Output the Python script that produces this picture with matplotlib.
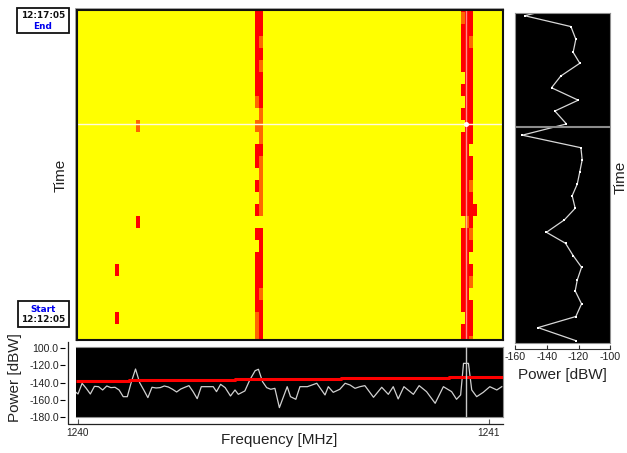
#!/usr/bin/env python
# spectrogram with a slice along frequency (bottom) and a slice along time (right)

import matplotlib
matplotlib.use("Agg")
import matplotlib.pyplot as plt
import numpy as np
from matplotlib.colors import ListedColormap
from matplotlib.lines import Line2D
from matplotlib.patches import Rectangle

plt.rcParams["font.family"] = ["Liberation Sans", "DejaVu Sans"]

W, H = 627, 453

# spectrogram: left edge of each occupied column [MHz] and its level per row
# . = background, o = medium, r = strong
col_edges = [1240.0908, 1240.1005, 1240.1411, 1240.1509, 1240.4314, 1240.4411,
             1240.4506, 1240.9319, 1240.9416, 1240.9513, 1240.9616, 1240.9708]
col_rows = {
    1240.0908: "......................r...r..",
    1240.1411: "..........o.......r..........",
    1240.4314: "rrrrrrrro.o.rr.r.r.r.rrrrrooo",
    1240.4411: "rrrororrrooorooooo.rrrrrorrrr",
    1240.9319: "rorrrr.r.r.rrrrrrr.rrrrrrr.rr",
    1240.9416: "rrrrrrrrrrrrrrrrrrorrrrrrrrrr",
    1240.9513: "rrrorrrrrrrr.rrorrror.ro.rrro",
    1240.9616: ".................r...........",
}

# slice along time (right panel)
time_rows = [-0.2, 0, 0.9, 1.95, 3.03, 3.94, 5.0, 5.97, 7.0, 7.9, 8.97, 9.9,
             10.94, 11.95, 12.93, 13.95, 14.92, 15.96, 16.93, 17.95, 18.86,
             19.88, 20.85, 21.9, 22.81, 23.88, 24.93, 25.85, 26.93]
time_power = [-147.6, -153.9, -124.8, -121.7, -123.4, -119.2, -131.2, -137.0,
              -120.2, -134.9, -127.6, -155.4, -118.5, -117.7, -119.2, -120.8,
              -124.0, -122.1, -129.0, -140.2, -128.2, -123.4, -118.1, -120.8,
              -122.1, -118.1, -121.7, -145.5, -121.7]

# slice along frequency (bottom panel)
freq_mhz = [1239.993, 1240.000, 1240.010, 1240.020, 1240.030, 1240.040, 1240.050,
            1240.060, 1240.070, 1240.080, 1240.090, 1240.100, 1240.110, 1240.120,
            1240.130, 1240.140, 1240.150, 1240.160, 1240.170, 1240.180, 1240.190,
            1240.200, 1240.210, 1240.220, 1240.230, 1240.240, 1240.250, 1240.260,
            1240.270, 1240.280, 1240.290, 1240.300, 1240.310, 1240.329, 1240.337,
            1240.347, 1240.358, 1240.371, 1240.382, 1240.390, 1240.406, 1240.418,
            1240.431, 1240.439, 1240.449, 1240.459, 1240.469, 1240.479, 1240.490,
            1240.509, 1240.517, 1240.530, 1240.540, 1240.558, 1240.581, 1240.601,
            1240.609, 1240.621, 1240.637, 1240.650, 1240.662, 1240.674, 1240.686,
            1240.698, 1240.719, 1240.739, 1240.755, 1240.767, 1240.779, 1240.793,
            1240.816, 1240.830, 1240.848, 1240.869, 1240.889, 1240.909, 1240.921,
            1240.931, 1240.938, 1240.950, 1240.958, 1240.970, 1240.986, 1241.002,
            1241.019, 1241.031]
freq_power = [-150.5, -153.2, -141.0, -146.7, -153.2, -144.4, -144.8, -148.6, -144.0,
              -145.9, -145.5, -148.6, -156.3, -156.3, -139.0, -124.5, -140.2, -148.6,
              -157.4, -145.5, -146.3, -145.9, -144.0, -145.2, -147.8, -150.9, -147.5,
              -145.5, -143.6, -150.5, -158.6, -144.8, -144.8, -144.8, -150.5, -142.1,
              -145.9, -155.5, -148.6, -153.6, -149.7, -137.1, -126.4, -124.8, -139.0,
              -145.9, -147.8, -146.7, -168.9, -144.8, -156.3, -159.3, -144.8, -144.8,
              -140.9, -154.3, -144.8, -151.3, -147.8, -140.9, -142.9, -146.7, -144.8,
              -143.6, -157.0, -145.5, -153.6, -144.8, -158.9, -144.8, -153.6, -143.6,
              -150.5, -163.9, -144.8, -150.5, -159.3, -154.3, -118.0, -118.0, -148.6,
              -156.3, -151.3, -144.8, -148.6, -144.8]

# red threshold line, stepped
thresh_freq = [1239.995, 1240.125, 1240.381, 1240.641, 1240.903, 1241.036]
thresh_power = [-138.8, -137.3, -136.2, -135.3, -134.0, -134.0]

power_ticks = [-100, -120, -140, -160, -180]
power_labels = ["100.0", "-120.0", "-140.0", "-160.0", "-180.0"]
right_ticks = [-160, -140, -120, -100]

cursor_freq = 1240.944
cursor_row = 10.33
cursor_row_right = 9.26


def px_axes(left, top, right, bottom):
    # axes from pixel box, y measured from the top of the image
    return fig.add_axes([left / W, 1 - bottom / H, (right - left) / W, (bottom - top) / H])


def fig_line(xs, ys, **kw):
    fig.add_artist(Line2D([x / W for x in xs], [1 - y / H for y in ys], **kw))


def time_box(left, top, right, bottom, first, second, first_color, second_color):
    fig.add_artist(Rectangle((left / W, 1 - bottom / H), (right - left) / W, (bottom - top) / H,
                             facecolor="white", edgecolor="#111111", linewidth=1.3))
    mid = (left + right) / 2
    fig.text(mid / W, 1 - (top + 8.2) / H, first, color=first_color, family="DejaVu Sans",
             weight="bold", fontsize=6.4, ha="center", va="center")
    fig.text(mid / W, 1 - (top + 18.8) / H, second, color=second_color, family="DejaVu Sans",
             weight="bold", fontsize=6.4, ha="center", va="center")


fig = plt.figure(figsize=(W / 100, H / 100), dpi=100, facecolor="white")

# gray edge behind the main panel
fig.add_artist(Rectangle((74.5 / W, 1 - 341 / H), 430 / W, 333 / H, facecolor="#a8a8a8",
                         edgecolor="none", zorder=-1))

# main spectrogram
ax = px_axes(76.5, 9.5, 502.5, 340)
edges = [1239.99] + col_edges + [1241.05]
levels = np.zeros((29, len(edges) - 1))
for j, e in enumerate(edges[:-1]):
    if e in col_rows:
        levels[:, j] = [".or".index(c) for c in col_rows[e]]
ax.pcolormesh(edges, np.arange(30), levels, vmin=0, vmax=2,
              cmap=ListedColormap(["#ffff00", "#ff6600", "#ff0000"]))
ax.set_xlim(1240 + (76.5 - 78) / 411, 1240 + (502.5 - 78) / 411)
ax.set_ylim(340 / 12, 9.5 / 12)
ax.set_xticks([])
ax.set_yticks([])
for s in ax.spines.values():
    s.set_linewidth(1.5)
    s.set_color("#111111")
ax.axhline(cursor_row, color="#fffbe0", linewidth=1.0)
ax.axvline(cursor_freq, color="white", alpha=0.55, linewidth=1.0)
ax.plot([cursor_freq], [cursor_row], "o", color="white", markersize=3.6, markeredgewidth=0)

# frequency slice
bot = px_axes(75.5, 346.7, 503, 417.3)
bot.set_facecolor("black")
bot.plot(freq_mhz, freq_power, color="#d0d0d0", linewidth=0.9)
bot.plot(thresh_freq, thresh_power, color="#ff0000", linewidth=2.2, drawstyle="steps-post",
         solid_capstyle="butt", zorder=3)
bot.axvline(cursor_freq, color="#c8c8c8", linewidth=1.0, zorder=4)
bot.set_xlim(1240 + (75.5 - 78) / 411, 1240 + (503 - 78) / 411)
bot.set_ylim(-180, -98.85)
for s in bot.spines.values():
    s.set_color("#909090")
    s.set_linewidth(0.8)
bot.spines["left"].set_position(("outward", 7.5))
bot.spines["left"].set_visible(False)
bot.spines["bottom"].set_visible(False)
bot.set_yticks(power_ticks)
bot.set_yticklabels(power_labels)
bot.tick_params(axis="y", length=3.6, width=0.8, pad=1, labelsize=7.6, labelcolor="#222222")
bot.set_xticks([1240, 1241])
bot.set_xticklabels(["1240", "1241"])
bot.xaxis.set_ticks_position("bottom")
bot.spines["bottom"].set_position(("outward", 5))
bot.tick_params(axis="x", direction="in", length=3.6, width=0.8, color="#555555",
                pad=3, labelsize=7.2, labelcolor="#222222")
fig_line([68.3, 68.3, 503], [341.7, 424.3, 424.3], color="#222222", linewidth=0.9)
fig_line([75.5, 503], [417.3, 417.3], color="#909090", linewidth=0.8)

# time slice
side = px_axes(515, 12.7, 610.3, 343.3)
side.set_facecolor("black")
side.plot(time_power, time_rows, color="#d8d8d8", linewidth=0.9, marker="s", markersize=1.6,
          markerfacecolor="white", markeredgewidth=0)
side.axhline(cursor_row_right, color="#8c8c8c", linewidth=1.5)
side.set_xlim(-160, -100)
side.set_ylim(27.15, -0.25)
side.set_yticks([])
side.set_xticks(right_ticks)
side.set_xticklabels([str(t) for t in right_ticks])
for s in side.spines.values():
    s.set_color("#909090")
    s.set_linewidth(0.8)
side.spines["bottom"].set_color("#333333")
side.spines["bottom"].set_position(("outward", 4.3))
side.tick_params(axis="x", direction="in", length=2.6, width=0.8, color="#333333",
                 pad=2, labelsize=7.7, labelcolor="#222222")
fig_line([515, 610.3], [343.3, 343.3], color="#909090", linewidth=0.8)

# axis titles
fig.text(279 / W, 1 - 440 / H, "Frequency [MHz]", fontsize=11, color="#222222",
         ha="center", va="center")
fig.text(562.3 / W, 1 - 374.5 / H, "Power [dBW]", fontsize=11, color="#222222",
         ha="center", va="center")
fig.text(15 / W, 1 - 378 / H, "Power [dBW]", fontsize=11, color="#222222", rotation=90,
         ha="center", va="center")
fig.text(61 / W, 1 - 175 / H, "Time", fontsize=11, color="#222222", rotation=90,
         ha="center", va="center")
fig.text(620.5 / W, 1 - 177 / H, "Time", fontsize=11, color="#222222", rotation=90,
         ha="center", va="center")

# time stamps
time_box(17, 7.5, 68.5, 33, "12:17:05", "End", "#111111", "#0000ee")
time_box(17.5, 301, 69, 326.5, "Start", "12:12:05", "#0000ee", "#111111")

fig.savefig("out.png", dpi=100)
